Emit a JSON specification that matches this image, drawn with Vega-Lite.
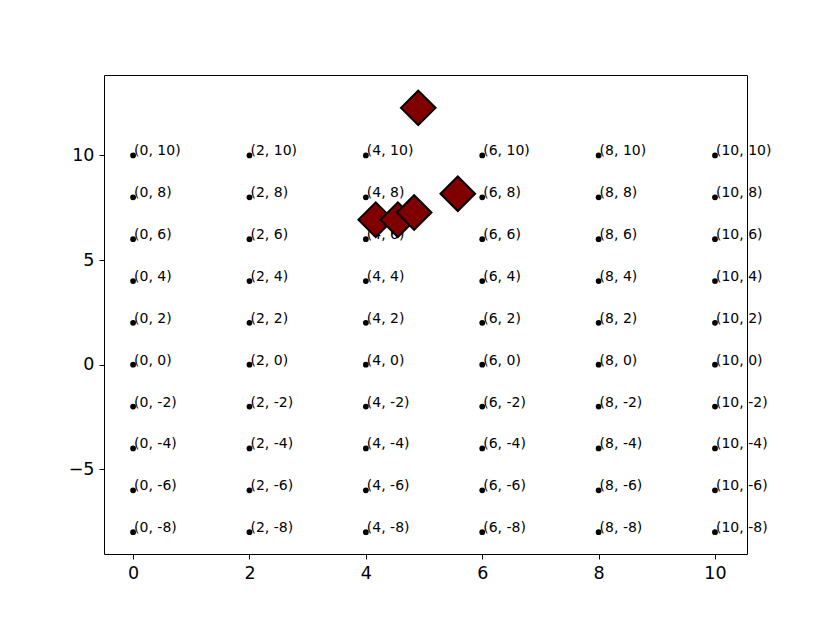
{
  "$schema": "https://vega.github.io/schema/vega-lite/v6.json",
  "autosize": {"type": "none"},
  "padding": {"left": 104, "top": 75, "right": 83, "bottom": 69},
  "width": 643,
  "height": 479,
  "background": "white",
  "config": {
    "view": {"stroke": "black", "strokeWidth": 1},
    "axis": {
      "grid": false,
      "domain": false,
      "tickColor": "black",
      "tickSize": 5,
      "tickWidth": 1,
      "labelFont": "DejaVu Sans",
      "labelFontSize": 17.5,
      "labelColor": "black",
      "labelPadding": 5,
      "title": null
    }
  },
  "datasets": {
    "grid": [
      {"x": 0, "y": 10, "label": "(0, 10)"}, {"x": 0, "y": 8, "label": "(0, 8)"}, {"x": 0, "y": 6, "label": "(0, 6)"}, {"x": 0, "y": 4, "label": "(0, 4)"}, {"x": 0, "y": 2, "label": "(0, 2)"}, {"x": 0, "y": 0, "label": "(0, 0)"}, {"x": 0, "y": -2, "label": "(0, -2)"}, {"x": 0, "y": -4, "label": "(0, -4)"}, {"x": 0, "y": -6, "label": "(0, -6)"}, {"x": 0, "y": -8, "label": "(0, -8)"},
      {"x": 2, "y": 10, "label": "(2, 10)"}, {"x": 2, "y": 8, "label": "(2, 8)"}, {"x": 2, "y": 6, "label": "(2, 6)"}, {"x": 2, "y": 4, "label": "(2, 4)"}, {"x": 2, "y": 2, "label": "(2, 2)"}, {"x": 2, "y": 0, "label": "(2, 0)"}, {"x": 2, "y": -2, "label": "(2, -2)"}, {"x": 2, "y": -4, "label": "(2, -4)"}, {"x": 2, "y": -6, "label": "(2, -6)"}, {"x": 2, "y": -8, "label": "(2, -8)"},
      {"x": 4, "y": 10, "label": "(4, 10)"}, {"x": 4, "y": 8, "label": "(4, 8)"}, {"x": 4, "y": 6, "label": "(4, 6)"}, {"x": 4, "y": 4, "label": "(4, 4)"}, {"x": 4, "y": 2, "label": "(4, 2)"}, {"x": 4, "y": 0, "label": "(4, 0)"}, {"x": 4, "y": -2, "label": "(4, -2)"}, {"x": 4, "y": -4, "label": "(4, -4)"}, {"x": 4, "y": -6, "label": "(4, -6)"}, {"x": 4, "y": -8, "label": "(4, -8)"},
      {"x": 6, "y": 10, "label": "(6, 10)"}, {"x": 6, "y": 8, "label": "(6, 8)"}, {"x": 6, "y": 6, "label": "(6, 6)"}, {"x": 6, "y": 4, "label": "(6, 4)"}, {"x": 6, "y": 2, "label": "(6, 2)"}, {"x": 6, "y": 0, "label": "(6, 0)"}, {"x": 6, "y": -2, "label": "(6, -2)"}, {"x": 6, "y": -4, "label": "(6, -4)"}, {"x": 6, "y": -6, "label": "(6, -6)"}, {"x": 6, "y": -8, "label": "(6, -8)"},
      {"x": 8, "y": 10, "label": "(8, 10)"}, {"x": 8, "y": 8, "label": "(8, 8)"}, {"x": 8, "y": 6, "label": "(8, 6)"}, {"x": 8, "y": 4, "label": "(8, 4)"}, {"x": 8, "y": 2, "label": "(8, 2)"}, {"x": 8, "y": 0, "label": "(8, 0)"}, {"x": 8, "y": -2, "label": "(8, -2)"}, {"x": 8, "y": -4, "label": "(8, -4)"}, {"x": 8, "y": -6, "label": "(8, -6)"}, {"x": 8, "y": -8, "label": "(8, -8)"},
      {"x": 10, "y": 10, "label": "(10, 10)"}, {"x": 10, "y": 8, "label": "(10, 8)"}, {"x": 10, "y": 6, "label": "(10, 6)"}, {"x": 10, "y": 4, "label": "(10, 4)"}, {"x": 10, "y": 2, "label": "(10, 2)"}, {"x": 10, "y": 0, "label": "(10, 0)"}, {"x": 10, "y": -2, "label": "(10, -2)"}, {"x": 10, "y": -4, "label": "(10, -4)"}, {"x": 10, "y": -6, "label": "(10, -6)"}, {"x": 10, "y": -8, "label": "(10, -8)"}
    ],
    "diamonds": [
      {"x": 4.17, "y": 6.93},
      {"x": 4.55, "y": 6.93},
      {"x": 4.83, "y": 7.27},
      {"x": 4.9, "y": 12.27},
      {"x": 5.58, "y": 8.17}
    ]
  },
  "layer": [
    {
      "data": {"name": "grid"},
      "mark": {"type": "point", "shape": "circle", "filled": true, "color": "black", "size": 33, "opacity": 1},
      "encoding": {
        "x": {"field": "x", "type": "quantitative", "scale": {"domain": [-0.5, 10.55], "nice": false, "zero": false}, "axis": {"values": [0, 2, 4, 6, 8, 10], "format": "d"}},
        "y": {"field": "y", "type": "quantitative", "scale": {"domain": [-9.04, 13.84], "nice": false, "zero": false}, "axis": {"values": [-5, 0, 5, 10], "format": "d"}}
      }
    },
    {
      "data": {"name": "grid"},
      "mark": {"type": "text", "align": "left", "baseline": "alphabetic", "font": "DejaVu Sans", "fontSize": 14, "color": "black", "dx": 1},
      "encoding": {
        "x": {"field": "x", "type": "quantitative"},
        "y": {"field": "y", "type": "quantitative"},
        "text": {"field": "label"}
      }
    },
    {
      "data": {"name": "diamonds"},
      "mark": {"type": "point", "shape": "diamond", "filled": true, "fill": "#800000", "stroke": "black", "strokeWidth": 2, "size": 1200, "opacity": 1, "fillOpacity": 1},
      "encoding": {
        "x": {"field": "x", "type": "quantitative"},
        "y": {"field": "y", "type": "quantitative"}
      }
    }
  ]
}
